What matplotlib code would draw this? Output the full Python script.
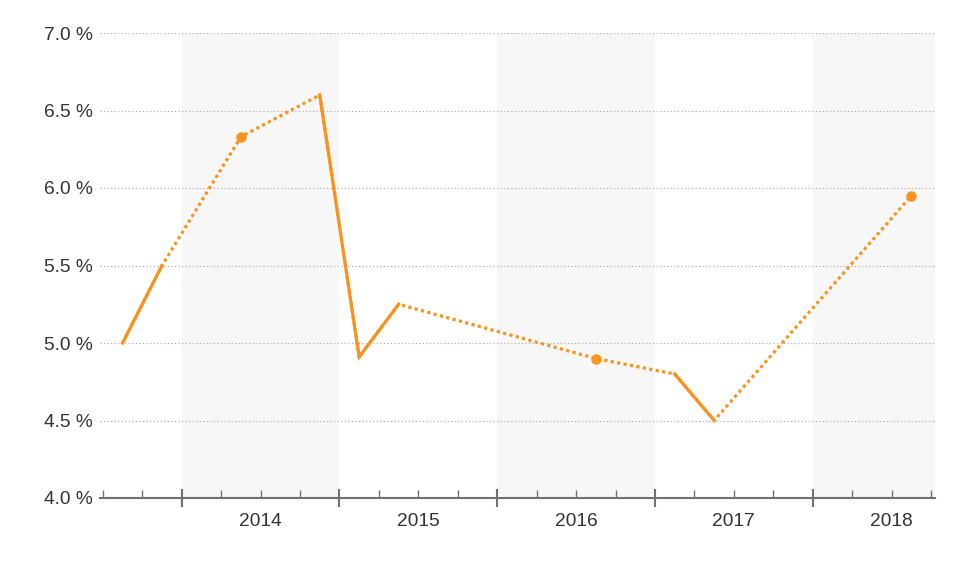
import numpy as np
import matplotlib
matplotlib.use("Agg")
import matplotlib.pyplot as plt
from matplotlib.ticker import FixedLocator, FuncFormatter

plt.rcParams['font.family'] = ['Liberation Sans', 'DejaVu Sans']

# quarterly values (percent), None = no data for that quarter
quarters = ['2013Q3', '2013Q4',
            '2014Q1', '2014Q2', '2014Q3', '2014Q4',
            '2015Q1', '2015Q2', '2015Q3', '2015Q4',
            '2016Q1', '2016Q2', '2016Q3', '2016Q4',
            '2017Q1', '2017Q2', '2017Q3', '2017Q4',
            '2018Q1', '2018Q2', '2018Q3']
values = [5.0, 5.5,
          None, 6.33, None, 6.6,
          4.91, 5.25, None, None,
          None, None, 4.9, None,
          4.8, 4.5, None, None,
          None, None, 5.95]
year_labels = ['2014', '2015', '2016', '2017', '2018']
shaded_years = [2014, 2016, 2018]
y_ticks = [4.0, 4.5, 5.0, 5.5, 6.0, 6.5, 7.0]

ORANGE = '#F7931E'

# quarter -> decimal year at middle of the quarter
x = np.array([int(q[:4]) + (int(q[-1]) - 1) * 0.25 + 0.125 for q in quarters])
y = np.array([np.nan if v is None else v for v in values])
ok = ~np.isnan(y)

x0, x1 = 2013.482, 2018.775

fig = plt.figure(figsize=(9.65, 5.8), dpi=100)
ax = fig.add_axes([100 / 965, 82 / 580, 835 / 965, 465 / 580])
ax.set_xlim(x0, x1)
ax.set_ylim(4.0, 7.0)

for yr in shaded_years:
    ax.axvspan(yr, min(yr + 1, x1), color='#F7F7F7', lw=0, zorder=0)

ax.set_yticks(y_ticks)
ax.yaxis.set_major_formatter(FuncFormatter(lambda v, p: f'{v:.1f} %'))
ax.grid(axis='y', color='#ABABAB', lw=0.85, linestyle=(0, (1, 2.0)), zorder=1)
ax.tick_params(axis='y', length=0, pad=5, labelsize=13.8, labelcolor='#333333')

# gaps bridged with dotted line, consecutive quarters solid
ax.plot(x[ok], y[ok], color=ORANGE, lw=2.3, linestyle=(0, (1, 1.05)),
        dash_capstyle='butt', zorder=3)
ax.plot(x, y, color=ORANGE, lw=2.3, solid_joinstyle='miter', zorder=4)

# isolated points get a marker
prev_ok = np.r_[False, ok[:-1]]
next_ok = np.r_[ok[1:], False]
iso = ok & ~prev_ok & ~next_ok
ax.plot(x[iso], y[iso], 'o', color=ORANGE, ms=6.5, zorder=5)

# year boundaries = major ticks, quarter boundaries = minor ticks (labels at mid-year)
years = [2014, 2015, 2016, 2017, 2018]
ax.xaxis.set_major_locator(FixedLocator(years))
ax.xaxis.set_major_formatter(FuncFormatter(lambda v, p: ''))
qb = [q / 4 for q in range(2013 * 4 + 2, 2018 * 4 + 4) if q % 4 != 0]
ax.xaxis.set_minor_locator(FixedLocator(qb))
lab = {yr + 0.5: s for yr, s in zip(years, year_labels)}
ax.xaxis.set_minor_formatter(FuncFormatter(
    lambda v, p: next((s for k, s in lab.items() if abs(k - v) < 1e-6), '')))
ax.tick_params(axis='x', which='major', direction='inout', length=12.5,
               width=1.5, color='#707070')
ax.tick_params(axis='x', which='minor', direction='in', length=5.8,
               width=1.0, color='#707070', pad=11, labelsize=13.8,
               labelcolor='#333333')

for s in ['top', 'right', 'left']:
    ax.spines[s].set_visible(False)
ax.spines['bottom'].set_color('#707070')
ax.spines['bottom'].set_linewidth(1.5)
ax.spines['bottom'].set_zorder(6)

fig.savefig('out.png', dpi=100)
